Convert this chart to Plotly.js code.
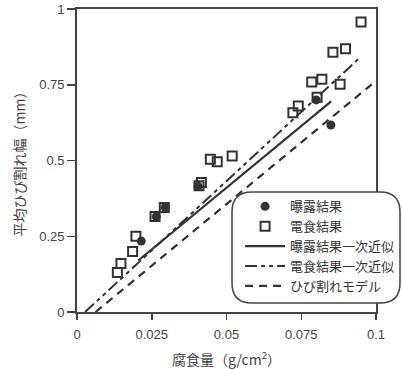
<!DOCTYPE html>
<html>
<head>
<meta charset="utf-8">
<script src="https://cdn.plot.ly/plotly-3.0.1.min.js"></script>
<style>html,body{margin:0;padding:0;background:#fff;}#chart{width:402px;height:369px;}</style>
</head>
<body>
<div id="chart"></div>
<script>
// 曝露結果 (exposure results)
var exposureX = [0.0215, 0.0265, 0.0295, 0.0405, 0.0800, 0.0849];
var exposureY = [0.234, 0.315, 0.345, 0.415, 0.700, 0.617];
// 電食結果 (electrolytic corrosion results)
var electroX = [0.0135, 0.0147, 0.0186, 0.0197, 0.0261, 0.0292, 0.0408, 0.0416, 0.0446, 0.0469, 0.0519, 0.0722, 0.0740, 0.0785, 0.0819, 0.0803, 0.0856, 0.0898, 0.0880, 0.0950];
var electroY = [0.130, 0.160, 0.200, 0.250, 0.315, 0.345, 0.417, 0.427, 0.504, 0.496, 0.515, 0.658, 0.680, 0.759, 0.768, 0.709, 0.857, 0.869, 0.752, 0.957];
// fitted lines / model (end points)
var exposureFitX = [0.0205, 0.0850];
var exposureFitY = [0.170, 0.695];
var electroFitX = [0.0027, 0.0950];
var electroFitY = [0.000, 0.843];
var modelX = [0.0062, 0.1000];
var modelY = [0.000, 0.763];
var names = ['曝露結果', '電食結果', '曝露結果一次近似', '電食結果一次近似', 'ひび割れモデル'];
var xTicks = [0, 0.025, 0.05, 0.075, 0.1];
var xTickText = ['0', '0.025', '0.05', '0.075', '0.1'];
var yTicks = [0, 0.25, 0.5, 0.75, 1];
var yTickText = ['0', '0.25', '0.5', '0.75', '1'];

var ink = '#333';
var traces = [
  {x: exposureX, y: exposureY, name: names[0], mode: 'markers', type: 'scatter',
   marker: {symbol: 'circle', size: 9, color: ink, line: {width: 0}}},
  {x: electroX, y: electroY, name: names[1], mode: 'markers', type: 'scatter',
   marker: {symbol: 'square-open', size: 9, color: ink, line: {width: 2, color: ink}}},
  {x: exposureFitX, y: exposureFitY, name: names[2], mode: 'lines', type: 'scatter',
   line: {color: ink, width: 2.2, dash: 'solid'}},
  {x: electroFitX, y: electroFitY, name: names[3], mode: 'lines', type: 'scatter',
   line: {color: ink, width: 2, dash: '12px,4px,4px,4px,4px,4px'}},
  {x: modelX, y: modelY, name: names[4], mode: 'lines', type: 'scatter',
   line: {color: ink, width: 2.2, dash: '8px,6px'}}
];

// rounded legend box in paper coords
var pw = 299, ph = 303;
var x0 = (232 - 77) / pw, x1 = (400 - 77) / pw;
var y1 = (312 - 192) / ph, y0 = (312 - 303) / ph;
var rx = 20 / pw, ry = 20 / ph;
var path = 'M' + (x0 + rx) + ',' + y1 + ' L' + (x1 - rx) + ',' + y1 +
  ' Q' + x1 + ',' + y1 + ' ' + x1 + ',' + (y1 - ry) +
  ' L' + x1 + ',' + (y0 + ry) + ' Q' + x1 + ',' + y0 + ' ' + (x1 - rx) + ',' + y0 +
  ' L' + (x0 + rx) + ',' + y0 + ' Q' + x0 + ',' + y0 + ' ' + x0 + ',' + (y0 + ry) +
  ' L' + x0 + ',' + (y1 - ry) + ' Q' + x0 + ',' + y1 + ' ' + (x0 + rx) + ',' + y1 + ' Z';

var layout = {
  width: 402, height: 369,
  margin: {l: 77, r: 26, t: 9, b: 57, pad: 0, autoexpand: false},
  paper_bgcolor: '#fff', plot_bgcolor: '#fff',
  font: {family: 'Liberation Sans, Arial, "Noto Sans CJK JP", sans-serif', size: 12, color: '#444'},
  showlegend: true,
  legend: {x: x0 + 0.027, y: y1 + 0.002, xanchor: 'left', yanchor: 'top', bgcolor: 'rgba(0,0,0,0)',
           borderwidth: 0, font: {family: '"Noto Sans CJK JP", sans-serif', size: 13, color: '#333'},
           itemwidth: 40, tracegroupgap: 0},
  xaxis: {range: [0, 0.1], tickvals: xTicks, ticktext: xTickText, ticks: 'outside', ticklen: 6,
          tickwidth: 1.5, tickcolor: '#444', showline: true, linecolor: '#444', linewidth: 1.8,
          mirror: true, showgrid: false, zeroline: false, ticklabelstandoff: 4, automargin: false,
          tickfont: {size: 13, color: '#444'},
          title: {text: '腐食量（g/cm<sup>2</sup>）', font: {family: '"Noto Sans CJK JP", sans-serif', size: 14, color: '#444'}, standoff: 14}},
  yaxis: {range: [0, 1], tickvals: yTicks, ticktext: yTickText, ticks: 'outside', ticklen: 8,
          tickwidth: 1.5, tickcolor: '#444', showline: true, linecolor: '#444', linewidth: 1.8,
          mirror: true, showgrid: false, zeroline: false, automargin: false,
          tickfont: {size: 13, color: '#444'},
          title: {text: '平均ひび割れ幅（mm）', font: {family: '"Noto Sans CJK JP", sans-serif', size: 14, color: '#444'}, standoff: 10}},
  shapes: [{type: 'path', xref: 'paper', yref: 'paper', path: path, fillcolor: '#fff',
            line: {color: '#444', width: 1.5}, layer: 'above'}]
};
Plotly.newPlot('chart', traces, layout, {displayModeBar: false, staticPlot: true});
</script>
</body>
</html>
